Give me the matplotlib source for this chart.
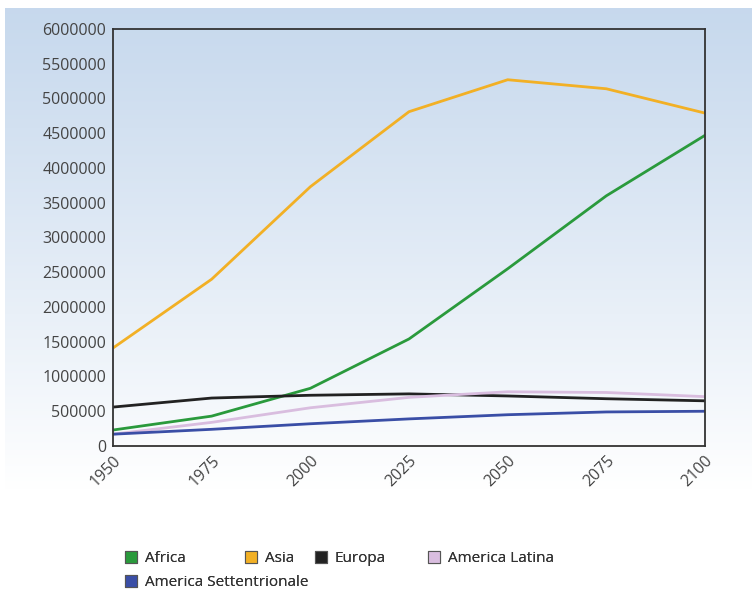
import numpy as np
import matplotlib.pyplot as plt
from matplotlib.patches import Patch

plt.rcParams['font.family'] = ['Open Sans', 'DejaVu Sans']

years = [1950, 1975, 2000, 2025, 2050, 2075, 2100]
africa = [230000, 430000, 830000, 1540000, 2550000, 3600000, 4470000]
asia = [1410000, 2400000, 3730000, 4810000, 5270000, 5140000, 4790000]
europa = [560000, 690000, 730000, 750000, 720000, 680000, 650000]
america_latina = [170000, 340000, 550000, 700000, 780000, 770000, 710000]
america_sett = [170000, 240000, 320000, 390000, 450000, 490000, 500000]

names = ['Africa', 'Asia', 'Europa', 'America Latina', 'America Settentrionale']
colors = ['#2a9a3c', '#f2b025', '#222222', '#d9bddf', '#3a4ea6']
series = [africa, asia, europa, america_latina, america_sett]

fig = plt.figure(figsize=(7.52, 5.91), dpi=100)

# gradient background panel
bg = fig.add_axes([5 / 752, 1 - 490 / 591, 1 - 5 / 752, (490 - 8) / 591], zorder=0)
grad = np.linspace(0, 1, 256).reshape(-1, 1)
top = np.array([0.78, 0.85, 0.93])
bottom = np.array([1.0, 1.0, 1.0])
img = top + (bottom - top) * grad[..., None] ** 1.1
bg.imshow(img, aspect='auto', extent=[0, 1, 0, 1])
bg.axis('off')

ax = fig.add_axes([113 / 752, 1 - 446 / 591, (705 - 113) / 752, (446 - 29) / 591], zorder=1)
ax.patch.set_alpha(0)

for vals, c in zip(series, colors):
    ax.plot(years, vals, color=c, lw=2)

ax.set_xlim(1950, 2100)
ax.set_ylim(0, 6000000)
ax.set_xticks(years)
ax.set_yticks(np.arange(0, 6000001, 500000))
ax.set_yticklabels([str(v) for v in range(0, 6000001, 500000)])
ax.tick_params(length=0, labelsize=11.5, colors='#444444', pad=5)
plt.setp(ax.get_xticklabels(), rotation=45, ha='right', rotation_mode='anchor')
for s in ax.spines.values():
    s.set_color('#333333')
    s.set_linewidth(1.3)

# legend entries placed one by one, like the html legend of the original
leg_pos = [(125, 551), (245, 551), (315, 551), (428, 551), (125, 575)]
leg_kw = dict(loc='upper left', frameon=False, fontsize=11, handlelength=0.8,
              handleheight=0.8, handletextpad=0.5, labelcolor='#333333',
              borderpad=0, borderaxespad=0)
for name, c, (px, py) in zip(names, colors, leg_pos):
    h = Patch(facecolor=c, edgecolor='#555555', lw=0.8)
    leg = fig.legend([h], [name], bbox_to_anchor=(px / 752, 1 - py / 591), **leg_kw)
    fig.add_artist(leg)

fig.savefig('out.png', dpi=100, facecolor='white')
